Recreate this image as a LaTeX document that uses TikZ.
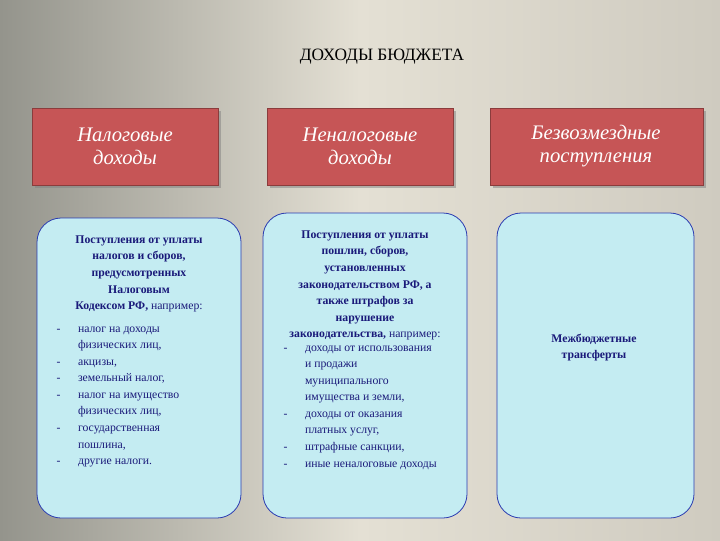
\documentclass[tikz,border=0pt]{standalone}
\usepackage{fontspec}
\setmainfont{Liberation Serif}
\usetikzlibrary{shadows}
\definecolor{hdr}{HTML}{C65556}
\definecolor{bodyc}{HTML}{C4ECF2}
\definecolor{edgeb}{HTML}{2A3AB0}
\definecolor{txt}{HTML}{1A1A7A}
\definecolor{bgl}{HTML}{94948C}
\definecolor{bgm}{HTML}{E4E0D4}
\definecolor{bgr}{HTML}{CFCBC0}
\begin{document}
\begin{tikzpicture}[x=0.75pt,y=-0.75pt,
 hdrbox/.style={fill=hdr,draw=hdr!70!black,drop shadow={shadow xshift=2pt,shadow yshift=-2pt,opacity=0.5}},
 hdrtext/.style={text=white,font=\fontsize{15.5}{17}\selectfont\itshape,align=center},
 bodybox/.style={fill=bodyc,draw=edgeb,line width=0.6pt,rounded corners=18pt},
 btext/.style={text=txt,font=\fontsize{8.8}{12.4}\selectfont,anchor=north}]
\useasboundingbox (0,0) rectangle (720,540);
\shade[left color=bgl,right color=bgr,middle color=bgm,shading angle=90] (0,0) rectangle (720,540);
\node[font=\fontsize{13}{15}\selectfont,text=black] (title) at (382,57) {ДОХОДЫ БЮДЖЕТА};
\path[hdrbox] (32,108) rectangle (218,185);
\path[hdrbox] (267,108) rectangle (453,185);
\path[hdrbox] (490,108) rectangle (703,185);
\node[hdrtext] (h1) at (125,146) {Налоговые\\доходы};
\node[hdrtext] (h2) at (360,146) {Неналоговые\\доходы};
\node[hdrtext] (h3) at (596,146) {Безвозмездные\\поступления};
\path[bodybox] (37,218) rectangle (241,518);
\path[bodybox] (263,213) rectangle (467,518);
\path[bodybox] (497,213) rectangle (694,518);
\node[btext,align=center] (b1) at (139,231) {\textbf{Поступления от уплаты}\\\textbf{налогов и сборов,}\\\textbf{предусмотренных}\\\textbf{Налоговым}\\\textbf{Кодексом РФ,} например:};
\node[btext,align=left,anchor=north west] (l1) at (52,316) {\begin{tabular}{@{}p{16pt}@{}l@{}}
-&налог на доходы\\&физических лиц,\\-&акцизы,\\-&земельный налог,\\-&налог на имущество\\&физических лиц,\\-&государственная\\&пошлина,\\-&другие налоги.\end{tabular}};
\node[btext,align=center] (b2) at (365,226) {\textbf{Поступления от уплаты}\\\textbf{пошлин, сборов,}\\\textbf{установленных}\\\textbf{законодательством РФ, а}\\\textbf{также штрафов за}\\\textbf{нарушение}\\\textbf{законодательства,} например:};
\node[btext,align=left,anchor=north west] (l2) at (279,335) {\begin{tabular}{@{}p{16pt}@{}l@{}}
-&доходы от использования\\&и продажи\\&муниципального\\&имущества и земли,\\-&доходы от  оказания\\&платных услуг,\\-&штрафные санкции,\\-&иные неналоговые доходы\end{tabular}};
\node[btext,align=center] (b3) at (594,329) {\textbf{Межбюджетные}\\\textbf{трансферты}};
\end{tikzpicture}
\end{document}
